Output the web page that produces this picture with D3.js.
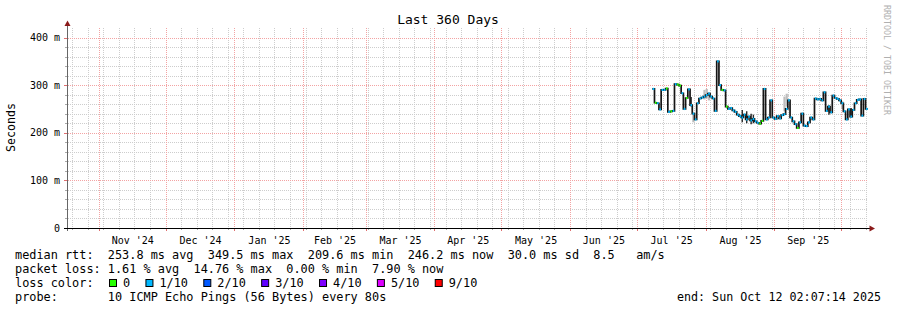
<!DOCTYPE html>
<html>
<head>
<meta charset="utf-8">
<script src="https://cdn.jsdelivr.net/npm/d3@7"></script>
<style>
  body { margin: 0; background: #fff; }
  text { font-family: "DejaVu Sans Mono", monospace; fill: #000; white-space: pre; }
</style>
</head>
<body>
<div id="chart"></div>
<script>
// graph window (rrd end time shifted so month lines land where the reference has them)
const graphStart = new Date("2024-10-17T15:07:00Z");
const graphEnd = new Date("2025-10-12T15:07:00Z");

const monthLabels = ["Nov '24", "Dec '24", "Jan '25", "Feb '25", "Mar '25", "Apr '25",
                     "May '25", "Jun '25", "Jul '25", "Aug '25", "Sep '25"];
const yTicks = [0, 100, 200, 300, 400];

// daily median rtt (ms), first value on 2025-07-08
const firstDay = "2025-07-08";
const medianRtt = [
  292, 263, 262, 249, 290, 290, 293, 244, 245, 246, 302, 301, 299, 283, 250, 273,
  291, 258, 240, 228, 262, 272, 274, 276, 279, 282, 276, 272, 246, 350, 300, 290,
  289, 255, 250, 252, 247, 244, 238, 235, 232, 238, 228, 234, 226, 229, 224, 221,
  219, 225, 292, 228, 232, 268, 232, 229, 235, 230, 237, 239, 250, 268, 232, 224,
  218, 210, 222, 240, 215, 214, 222, 232, 228, 272, 270, 271, 268, 285, 246, 255,
  243, 278, 273, 271, 268, 262, 245, 228, 249, 234, 248, 262, 269, 270, 236, 271,
  250
];
// packet loss per day, in tenths (0 = none)
const lossTenths = [
  1, 0, 1, 1, 1, 1, 0, 1, 0, 1, 1, 0, 0, 1, 1, 0,
  1, 1, 1, 1, 1, 1, 1, 1, 1, 1, 1, 1, 1, 1, 1, 0,
  1, 0, 1, 1, 1, 1, 1, 1, 1, 1, 1, 1, 1, 1, 1, 1,
  0, 0, 1, 1, 1, 1, 1, 1, 1, 1, 1, 1, 1, 1, 1, 1,
  1, 0, 1, 1, 1, 1, 1, 1, 1, 1, 1, 1, 1, 1, 1, 1,
  1, 1, 1, 1, 1, 1, 1, 1, 1, 1, 1, 1, 1, 1, 1, 1,
  1
];
// light smoke (ping spread) on a few days
const smokeDays = ["2025-07-26", "2025-07-31", "2025-08-01", "2025-08-02", "2025-09-05", "2025-09-06", "2025-10-01"];
const smokeLo = [222, 270, 272, 268, 245, 255, 250];
const smokeHi = [238, 290, 292, 285, 276, 282, 266];
// dark smoke spikes
const spikeDays = ["2025-07-25", "2025-08-17", "2025-08-19", "2025-08-21", "2025-08-22", "2025-09-25", "2025-10-05"];
const spikeLo = [255, 222, 220, 218, 220, 238, 232];
const spikeHi = [275, 248, 245, 240, 238, 258, 252];

const lossLabels = ["0", "1/10", "2/10", "3/10", "4/10", "5/10", "9/10"];
const lossColors = ["#26ff00", "#00b8ff", "#0059ff", "#5e00ff", "#7e00ff", "#dd00ff", "#ff0000"];

const w = 897, h = 310;
const pLeft = 67, pRight = 867, pTop = 28, pBottom = 228;
const charW = 7.14;
const minorCol = "#cdcdcd", majorCol = "#f3a3a3";

const svg = d3.select("#chart").append("svg").attr("width", w).attr("height", h);

const x = d3.scaleUtc().domain([graphStart, graphEnd]).range([pLeft, pRight]);
const y = d3.scaleLinear().domain([0, 420]).range([pBottom, pTop]);

// ---- grid
const grid = svg.append("g").attr("shape-rendering", "crispEdges");
d3.range(20, 420, 20).filter(v => v % 100 != 0).forEach(v => {
  grid.append("line").attr("x1", pLeft + 1).attr("x2", pRight)
      .attr("y1", Math.round(y(v)) + 0.5).attr("y2", Math.round(y(v)) + 0.5)
      .attr("stroke", minorCol).attr("stroke-dasharray", "1,1");
  grid.append("line").attr("x1", pLeft - 2).attr("x2", pLeft)
      .attr("y1", Math.round(y(v)) + 0.5).attr("y2", Math.round(y(v)) + 0.5).attr("stroke", "#aaa");
});
d3.utcSunday.range(graphStart, graphEnd).forEach(d => {
  const px = Math.round(x(d)) + 0.5;
  grid.append("line").attr("x1", px).attr("x2", px).attr("y1", pTop).attr("y2", pBottom)
      .attr("stroke", minorCol).attr("stroke-dasharray", "1,1");
  grid.append("line").attr("x1", px).attr("x2", px).attr("y1", pBottom).attr("y2", pBottom + 2)
      .attr("stroke", "#aaa");
});
yTicks.filter(v => v > 0).forEach(v => {
  grid.append("line").attr("x1", pLeft + 1).attr("x2", pRight)
      .attr("y1", Math.round(y(v)) + 0.5).attr("y2", Math.round(y(v)) + 0.5)
      .attr("stroke", majorCol).attr("stroke-dasharray", "1,1");
  grid.append("line").attr("x1", pLeft - 3).attr("x2", pLeft)
      .attr("y1", Math.round(y(v)) + 0.5).attr("y2", Math.round(y(v)) + 0.5).attr("stroke", "#e07070");
});
const monthStarts = d3.utcMonth.range(d3.utcMonth.ceil(graphStart), graphEnd);
monthStarts.forEach(d => {
  const px = Math.round(x(d)) + 0.5;
  grid.append("line").attr("x1", px).attr("x2", px).attr("y1", pTop).attr("y2", pBottom)
      .attr("stroke", majorCol).attr("stroke-dasharray", "1,1");
  grid.append("line").attr("x1", px).attr("x2", px).attr("y1", pBottom).attr("y2", pBottom + 3)
      .attr("stroke", "#e07070");
});

// ---- data
const day0 = new Date(firstDay + "T00:00:00Z");
const data = medianRtt.map((v, i) => ({
  date: d3.utcDay.offset(day0, i),
  v: v,
  loss: lossTenths[i]
}));
const dayOf = s => new Date(s + "T00:00:00Z");

svg.append("g").selectAll("rect").data(smokeDays).enter().append("rect")
   .attr("x", d => x(dayOf(d)))
   .attr("width", d => x(d3.utcDay.offset(dayOf(d), 1)) - x(dayOf(d)))
   .attr("y", (d, i) => y(smokeHi[i]))
   .attr("height", (d, i) => y(smokeLo[i]) - y(smokeHi[i]))
   .attr("fill", "#bdbdbd");

svg.append("g").selectAll("line").data(spikeDays).enter().append("line")
   .attr("x1", d => x(d3.utcHour.offset(dayOf(d), 12)))
   .attr("x2", d => x(d3.utcHour.offset(dayOf(d), 12)))
   .attr("y1", (d, i) => y(spikeHi[i]))
   .attr("y2", (d, i) => y(spikeLo[i]))
   .attr("stroke", "#2a2a2a")
   .attr("stroke-width", 1.4);

const stepData = data.concat([{ date: d3.utcDay.offset(data[data.length - 1].date, 1), v: data[data.length - 1].v }]);
const line = d3.line().x(d => x(d.date)).y(d => y(d.v)).curve(d3.curveStepAfter);
svg.append("path").datum(stepData)
   .attr("d", line)
   .attr("fill", "none")
   .attr("stroke", "#151515")
   .attr("stroke-width", 1.7);

// loss-coloured median marks
svg.append("g").selectAll("line").data(data).enter().append("line")
   .attr("x1", d => x(d3.utcHour.offset(d.date, 4)))
   .attr("x2", d => x(d3.utcHour.offset(d.date, 22)))
   .attr("y1", d => y(d.v))
   .attr("y2", d => y(d.v))
   .attr("stroke", d => lossColors[d.loss])
   .attr("stroke-width", 2.2);

// ---- axes
svg.append("line").attr("x1", pLeft + 0.5).attr("x2", pLeft + 0.5).attr("y1", pBottom + 3).attr("y2", 25)
   .attr("stroke", "#666").attr("shape-rendering", "crispEdges");
svg.append("line").attr("x1", pLeft - 3).attr("x2", pRight + 4).attr("y1", pBottom + 0.5).attr("y2", pBottom + 0.5)
   .attr("stroke", "#000").attr("shape-rendering", "crispEdges");
svg.append("path").attr("d", "M67.5,20.5 L64.5,26 L70.5,26 Z").attr("fill", "#8b1a1a");
svg.append("path").attr("d", "M875,228.5 L869.5,225.5 L869.5,231.5 Z").attr("fill", "#8b1a1a");

const yAxis = d3.axisLeft(y).tickValues(yTicks).tickSize(0).tickPadding(7)
                .tickFormat(d => d == 0 ? "0" : d + " m");
svg.append("g").attr("transform", "translate(" + pLeft + ",0)").call(yAxis)
   .call(g => g.select(".domain").remove())
   .selectAll("text").style("font-size", "10px").style("font-family", "DejaVu Sans Mono").attr("fill", "#000");

const monthMids = monthLabels.map((l, i) => new Date((+monthStarts[i] + +monthStarts[i + 1]) / 2));
const xAxis = d3.axisBottom(x).tickValues(monthMids).tickSize(0).tickPadding(9)
                .tickFormat((d, i) => monthLabels[i]);
svg.append("g").attr("transform", "translate(0," + pBottom + ")").call(xAxis)
   .call(g => g.select(".domain").remove())
   .selectAll("text").style("font-size", "10px").style("font-family", "DejaVu Sans Mono").attr("fill", "#000");

// ---- titles
svg.append("text").attr("x", 448).attr("y", 24).attr("text-anchor", "middle")
   .style("font-size", "13px").text("Last 360 Days");
svg.append("text").attr("transform", "translate(15,127.5) rotate(-90)").attr("text-anchor", "middle")
   .style("font-size", "11.6px").text("Seconds");
svg.append("text").attr("transform", "translate(884,5) rotate(90)")
   .style("font-size", "8.3px").style("fill", "#b0b0b0")
   .text("RRDTOOL / TOBI OETIKER");

// ---- legend
const legendRows = [
  "median rtt:  253.8 ms avg  349.5 ms max  209.6 ms min  246.2 ms now  30.0 ms sd  8.5   am/s",
  "packet loss: 1.61 % avg  14.76 % max  0.00 % min  7.90 % now",
  "loss color:",
  "probe:       10 ICMP Echo Pings (56 Bytes) every 80s"
];
legendRows.forEach((t, i) => {
  svg.append("text").attr("x", 15).attr("y", 258.5 + i * 14)
     .style("font-size", "11.86px").text(t);
});
let lx = 109;
lossLabels.forEach((l, i) => {
  svg.append("rect").attr("x", lx + 0.5).attr("y", 279.5).attr("width", 7).attr("height", 7)
     .attr("fill", lossColors[i]).attr("stroke", "#000").attr("stroke-width", 1);
  svg.append("text").attr("x", lx + 14).attr("y", 286.5).style("font-size", "11.86px").text(l);
  lx += 14 + l.length * charW + 15.3;
});
svg.append("text").attr("x", 881).attr("y", 300.5).attr("text-anchor", "end")
   .style("font-size", "11.7px").text("end: Sun Oct 12 02:07:14 2025");
</script>
</body>
</html>
